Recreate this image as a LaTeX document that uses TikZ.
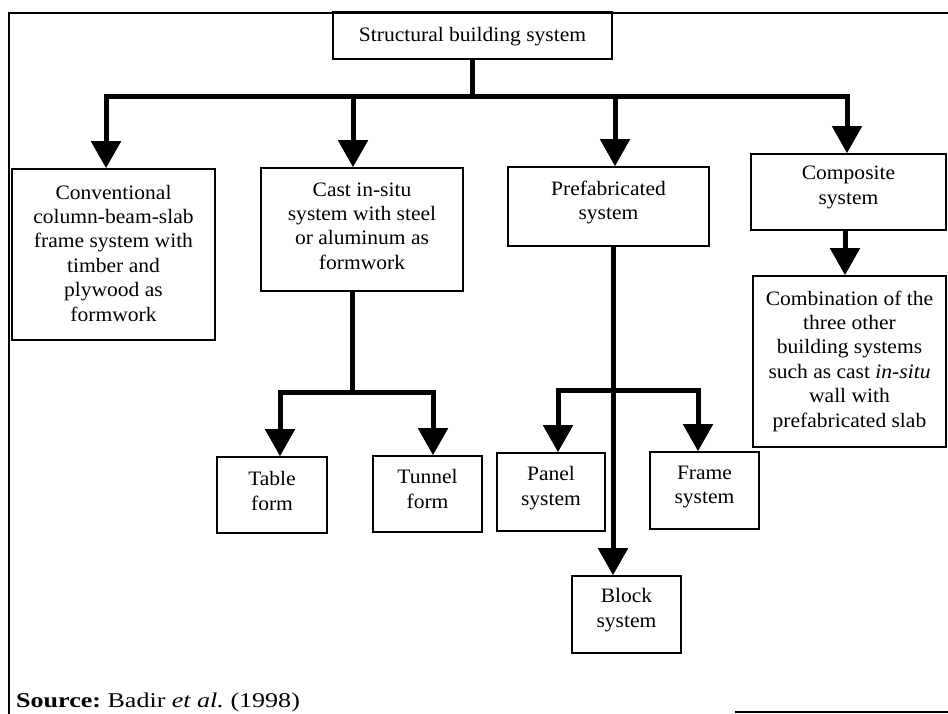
\documentclass[tikz,border=0pt]{standalone}
\usepackage{fontspec}
\setmainfont[FakeStretch=1.05]{Liberation Serif}
\newfontfamily\srcfont[FakeStretch=1.24]{Liberation Serif}
\usetikzlibrary{arrows.meta,calc}
\begin{document}
\begin{tikzpicture}[x=1pt,y=-1pt,
  box/.style={draw, line width=1.6pt, inner sep=0pt},
  txt/.style={align=center, font=\fontsize{20.5}{24.4}\selectfont, inner sep=0pt},
  link/.style={line width=5pt, line join=miter},
  arr/.style={link, -{Triangle[width=29pt,length=27pt]}}]
\useasboundingbox (0,0) rectangle (948,714);

% outer frame (partial)
\draw[line width=1.5pt] (948,13) -- (9,13) -- (9,714);
\draw[line width=2pt] (735,712) -- (948,712);

% boxes
\node[box, minimum width=279pt, minimum height=47pt] (top) at (472.5,35.5) {};
\node[box, minimum width=203pt, minimum height=171pt] (conv) at (113.5,254.5) {};
\node[box, minimum width=202pt, minimum height=123pt] (cast) at (362,229.5) {};
\node[box, minimum width=201pt, minimum height=79pt] (prefab) at (608.5,206.5) {};
\node[box, minimum width=195pt, minimum height=76pt] (comp) at (848.5,192) {};
\node[box, minimum width=193pt, minimum height=171pt] (comb) at (849.5,361.5) {};
\node[box, minimum width=110pt, minimum height=76pt] (table) at (272,495) {};
\node[box, minimum width=109pt, minimum height=76pt] (tunnel) at (427.5,494) {};
\node[box, minimum width=108pt, minimum height=78pt] (panel) at (551,492) {};
\node[box, minimum width=109pt, minimum height=77pt] (frame) at (704.5,490.5) {};
\node[box, minimum width=109pt, minimum height=77pt] (block) at (626.5,614.5) {};

% texts
\node[txt] (topt) at ([yshift=-1.5pt]top.center) {Structural building system};
\node[txt] (convt) at ([yshift=1.5pt]conv.center) {Conventional\\column-beam-slab\\frame system with\\timber and\\plywood as\\formwork};
\node[txt] (castt) at ([yshift=3.5pt]cast.center) {Cast in-situ\\system with steel\\or aluminum as\\formwork};
\node[txt] (prefabt) at ([yshift=4pt]prefab.center) {Prefabricated\\system};
\node[txt] (compt) at ([yshift=4.5pt]comp.center) {Composite\\system};
\node[txt] (combt) at ([yshift=0.5pt]comb.center) {Combination of the\\three other\\building systems\\such as cast \textit{in-situ}\\wall with\\prefabricated slab};
\node[txt] (tablet) at ([yshift=4pt]table.center) {Table\\form};
\node[txt] (tunnelt) at ([yshift=5pt]tunnel.center) {Tunnel\\form};
\node[txt] (panelt) at ([yshift=4pt]panel.center) {Panel\\system};
\node[txt] (framet) at ([yshift=3.5pt]frame.center) {Frame\\system};
\node[txt] (blockt) at ([yshift=4.5pt]block.center) {Block\\system};

% connectors
\coordinate (j0) at (472.5,97);
\draw[link] (top.south) -- (j0);
\draw[arr] (j0) -| ([xshift=-7.5pt]conv.north);
\draw[arr] (j0) -| ([xshift=-9pt]cast.north);
\draw[arr] (j0) -| ([xshift=6.5pt]prefab.north);
\draw[arr] (j0) -| ([xshift=-1.5pt]comp.north);

\coordinate (j1) at (352,392);
\draw[link] ([xshift=-10pt]cast.south) -- (j1);
\draw[arr] (j1) -| ([xshift=8pt]table.north);
\draw[arr] (j1) -| ([xshift=5.5pt]tunnel.north);

\coordinate (j2) at (613,390);
\draw[arr] ([xshift=4.5pt]prefab.south) -- ([xshift=-13.5pt]block.north);
\draw[arr] (j2) -| ([xshift=7pt]panel.north);
\draw[arr] (j2) -| ([xshift=-6.5pt]frame.north);

\draw[arr] ([xshift=-3.5pt]comp.south) -- ([xshift=-4.5pt]comb.north);

% source
\node[anchor=base west, font=\srcfont\fontsize{21}{24}\selectfont\frenchspacing, inner sep=0pt] (src) at (16,707) {\textbf{Source:} Badir \textit{et al.} (1998)};
\end{tikzpicture}
\end{document}
